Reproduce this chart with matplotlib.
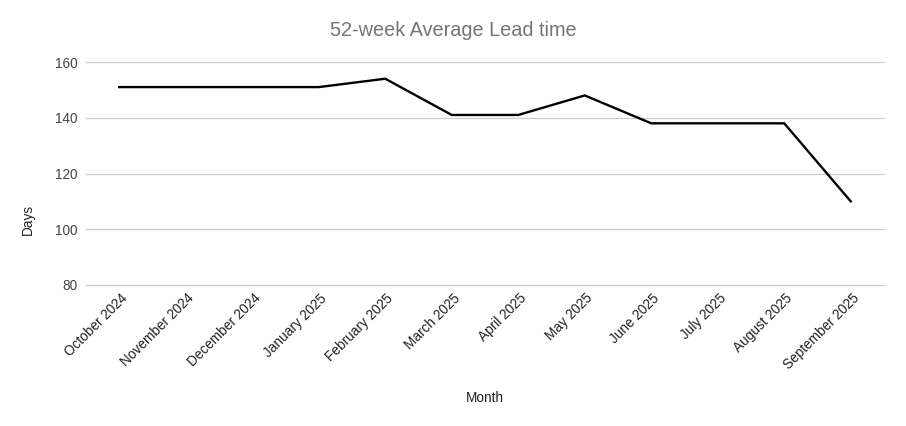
#52-week average lead time line chart

import numpy as np
import matplotlib.transforms as mtransforms
from matplotlib import pyplot as plt

plt.rcParams['font.family'] = ['Liberation Sans', 'DejaVu Sans']

months = ['October 2024', 'November 2024', 'December 2024', 'January 2025',
          'February 2025', 'March 2025', 'April 2025', 'May 2025',
          'June 2025', 'July 2025', 'August 2025', 'September 2025']
lead_days = [151, 151, 151, 151, 154, 141, 141, 148, 138, 138, 138, 110]
y_ticks = [80, 100, 120, 140, 160]

fig = plt.figure(figsize=(9.06, 4.26), dpi=100)
ax = fig.add_axes([86/906, 1 - 285/426, (884 - 86)/906, (285 - 62)/426])

x = np.arange(len(months))
ax.plot(x, lead_days, color='black', linewidth=1.7, solid_joinstyle='miter')

ax.set_xlim(-0.5, len(months) - 0.5)
ax.set_ylim(80, 160)
ax.set_yticks(y_ticks)
ax.set_xticks(x)
ax.set_xticklabels(months, rotation=45, ha='right', va='center',
                   rotation_mode='anchor', fontsize=9.8, color='#222222')
ax.tick_params(axis='y', labelsize=9.8, labelcolor='#444444', length=0, pad=6)
ax.tick_params(axis='x', length=0, pad=8)

# nudge the rotated labels a little to the right, like the original
shift = mtransforms.ScaledTranslation(6/100, 0, fig.dpi_scale_trans)
for lab in ax.get_xticklabels():
    lab.set_transform(lab.get_transform() + shift)

ax.grid(axis='y', color='#cccccc', linewidth=0.9)
for gl in ax.get_ygridlines():
    gl.set_clip_on(False)
ax.set_axisbelow(True)
for s in ax.spines.values():
    s.set_visible(False)

fig.text(453/906, 1 - 30/426, '52-week Average Lead time', ha='center', va='center',
         fontsize=14.3, color='#757575')
fig.text(485/906, 1 - 398/426, 'Month', ha='center', va='center',
         fontsize=9.8, color='#222222')
fig.text(28/906, 1 - 219/426, 'Days', ha='center', va='center', rotation=90,
         fontsize=9.8, color='#222222')

fig.savefig('out.png', dpi=100)
